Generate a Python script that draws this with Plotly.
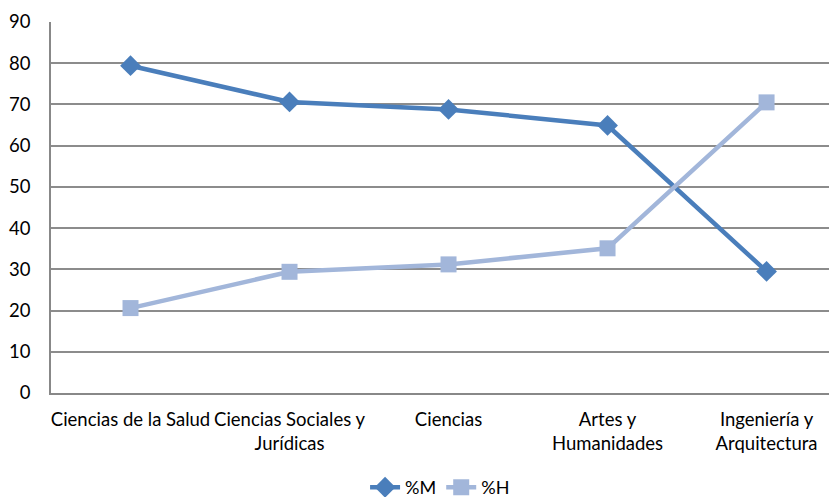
import plotly.graph_objects as go

categories = ["Ciencias de la Salud", "Ciencias Sociales y<br>Jurídicas", "Ciencias",
              "Artes y<br>Humanidades", "Ingeniería y<br>Arquitectura"]
pct_m = [79.4, 70.6, 68.8, 64.9, 29.5]
pct_h = [20.6, 29.4, 31.2, 35.1, 70.5]
y_ticks = [0, 10, 20, 30, 40, 50, 60, 70, 80, 90]

xpos = list(range(len(categories)))
FONT = "Lato, 'Open Sans', sans-serif"

fig = go.Figure()
fig.add_trace(go.Scatter(
    x=xpos, y=pct_m, name="%M", mode="lines+markers",
    line=dict(color="#4A7EBB", width=4.5),
    marker=dict(symbol="diamond", size=16, color="#4A7EBB"),
))
fig.add_trace(go.Scatter(
    x=xpos, y=pct_h, name="%H", mode="lines+markers",
    line=dict(color="#A2B6DA", width=4.5),
    marker=dict(symbol="square", size=16, color="#A2B6DA"),
))

fig.update_layout(
    width=829, height=489,
    margin=dict(l=43, r=0, t=14, b=104, autoexpand=False),
    paper_bgcolor="white", plot_bgcolor="white",
    font=dict(family=FONT, size=18, color="#000000"),
    showlegend=True,
    legend=dict(orientation="h", x=0.495, xanchor="center",
                yref="paper", y=-0.205, yanchor="top",
                font=dict(size=18), itemwidth=30, tracegroupgap=0),
    xaxis=dict(
        tickmode="array", tickvals=xpos, ticktext=categories,
        range=[-0.5, 4.443], showgrid=False, zeroline=False,
        showline=True, linecolor="#888888", linewidth=1.5,
        ticks="", tickfont=dict(size=18.5), ticklabelstandoff=9, automargin=False,
    ),
    yaxis=dict(
        range=[0, 90], tickvals=y_ticks, showgrid=True, gridcolor="#8C8C8C", gridwidth=1.5,
        zeroline=False, showline=True, linecolor="#888888", linewidth=1.5,
        ticks="", tickfont=dict(size=18.5), ticklabelstandoff=15, automargin=False,
    ),
)

fig.write_html("out.html")
